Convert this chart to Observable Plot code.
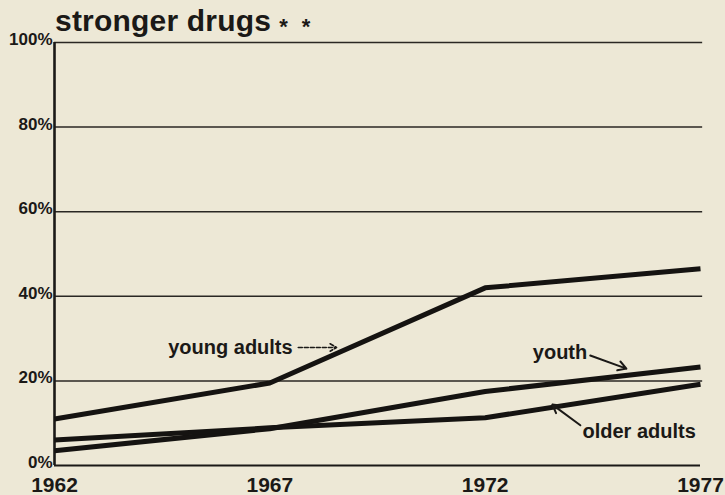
<!DOCTYPE html>
<html>
<head>
<meta charset="utf-8">
<script src="https://cdn.jsdelivr.net/npm/d3@7"></script>
<script src="https://cdn.jsdelivr.net/npm/@observablehq/plot@0.6"></script>
<style>
  html, body { margin: 0; padding: 0; background: #ede8d6; }
  body { width: 725px; height: 495px; overflow: hidden; position: relative; font-family: "Liberation Sans", Arial, sans-serif; color: #1b1917; }
  #title { position: absolute; left: 55px; top: 6px; font-size: 30px; line-height: 30px; font-weight: bold; letter-spacing: 0.2px; white-space: nowrap; }
  #title .stars { font-size: 22px; position: relative; top: 3px; margin-left: 8px; letter-spacing: 4px; }
  #chart { position: absolute; left: 0; top: 36px; }
  #chart svg text { font-weight: bold; }
</style>
</head>
<body>
<div id="title">stronger drugs<span class="stars">* *</span></div>
<div id="chart"></div>
<script>
const years = [1962, 1967, 1972, 1977];
const youngAdults = [11, 19.5, 42, 46.5];
const youth = [3.5, 8.7, 17.5, 23.3];
const olderAdults = [6, 8.9, 11.3, 19.2];
const seriesNames = ["young adults", "youth", "older adults"];
const yTicks = [0, 20, 40, 60, 80, 100];
const xTicks = [1962, 1967, 1972, 1977];

const seriesValues = [youngAdults, youth, olderAdults];
const rows = seriesNames.flatMap((s, i) => years.map((yr, j) => ({series: s, year: yr, value: seriesValues[i][j]})));

const ink = "#1b1917";
const chart = Plot.plot({
  width: 725,
  height: 459,
  marginLeft: 54,
  marginRight: 25,
  marginTop: 6,
  marginBottom: 30,
  x: {domain: [1962, 1977]},
  y: {domain: [0, 100]},
  style: {background: "transparent", fontFamily: "Liberation Sans, Arial, sans-serif", color: ink, overflow: "visible"},
  marks: [
    Plot.ruleY(yTicks.filter(d => d > 0), {x1: 1962, x2: 1977.05, stroke: "#2a2723", strokeWidth: 1.5}),
    Plot.ruleY([0], {x1: 1962, x2: 1977, stroke: ink, strokeWidth: 2.2}),
    Plot.ruleX([1962], {y1: 0, y2: 100, stroke: ink, strokeWidth: 2.6}),
    Plot.line(rows, {x: "year", y: "value", z: "series", stroke: "#151311", strokeWidth: 5, strokeLinejoin: "round", strokeLinecap: "butt"}),
    Plot.axisY(yTicks, {tickSize: 0, tickPadding: 2, tickFormat: d => d + "%", fontSize: 17, fontWeight: "bold", dy: -3, label: null}),
    Plot.axisX(xTicks, {tickSize: 0, tickPadding: 12, tickFormat: d => String(d), fontSize: 21, fontWeight: "bold", label: null}),
    // series labels
    Plot.text([seriesNames[0]], {x: 1967.53, y: 27.9, text: d => d, textAnchor: "end", fontSize: 20, fontWeight: "bold", fill: ink}),
    Plot.text([seriesNames[1]], {x: 1974.37, y: 26.7, text: d => d, textAnchor: "end", fontSize: 20, fontWeight: "bold", fill: ink}),
    Plot.text([seriesNames[2]], {x: 1974.26, y: 8.0, text: d => d, textAnchor: "start", fontSize: 20, fontWeight: "bold", fill: ink}),
    // arrows
    Plot.arrow([0], {x1: 1967.66, y1: 27.9, x2: 1968.55, y2: 27.9, stroke: ink, strokeWidth: 1.6, strokeDasharray: "4,2", headLength: 7}),
    Plot.arrow([0], {x1: 1974.44, y1: 26.0, x2: 1975.28, y2: 22.9, stroke: ink, strokeWidth: 2, headLength: 7}),
    Plot.arrow([0], {x1: 1974.21, y1: 9.5, x2: 1973.56, y2: 14.4, stroke: ink, strokeWidth: 2, headLength: 7})
  ]
});
document.getElementById("chart").appendChild(chart);
</script>
</body>
</html>
